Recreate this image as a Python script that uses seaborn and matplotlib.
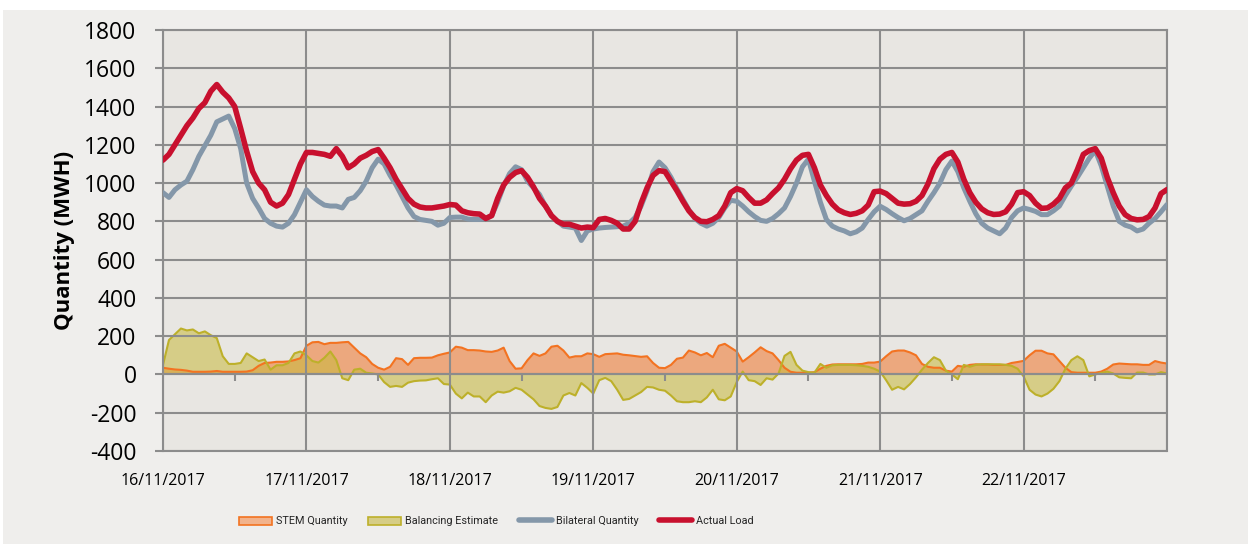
import matplotlib

matplotlib.use("Agg")

import matplotlib.pyplot as plt
import pandas as pd
import seaborn as sns
from matplotlib.lines import Line2D
from matplotlib.patches import Patch, Rectangle

# hourly readings, 16/11/2017 00:00 .. 23/11/2017 00:00 (one row per day)
start_day = "2017-11-16"
day_labels = ["16/11/2017", "17/11/2017", "18/11/2017", "19/11/2017",
              "20/11/2017", "21/11/2017", "22/11/2017", ""]
y_ticks = [-400, -200, 0, 200, 400, 600, 800, 1000, 1200, 1400, 1600, 1800]

actual_load = [
    1120, 1150, 1200, 1250, 1300, 1340, 1390, 1420, 1480, 1515, 1475, 1445, 1400, 1285, 1166, 1060, 1000, 965, 900, 880, 895, 940, 1020, 1100,
    1160, 1160, 1155, 1150, 1140, 1180, 1140, 1080, 1100, 1130, 1145, 1165, 1175, 1130, 1080, 1020, 970, 920, 890, 875, 870, 870, 875, 880,
    888, 885, 855, 845, 840, 838, 815, 830, 920, 990, 1030, 1055, 1065, 1030, 980, 920, 880, 830, 800, 785, 785, 775, 765, 770,
    767, 810, 815, 805, 790, 760, 760, 800, 895, 975, 1040, 1065, 1060, 1010, 960, 905, 855, 820, 800, 798, 810, 830, 880, 950,
    971, 960, 925, 895, 895, 912, 945, 975, 1020, 1075, 1120, 1145, 1150, 1080, 990, 935, 890, 860, 845, 836, 842, 855, 885, 955,
    958, 945, 920, 895, 890, 892, 905, 935, 995, 1075, 1125, 1150, 1160, 1110, 1020, 950, 900, 865, 845, 836, 838, 850, 890, 950,
    955, 935, 895, 868, 870, 890, 920, 975, 1000, 1070, 1150, 1170, 1180, 1130, 1030, 950, 880, 835, 815, 808, 810, 825, 870, 945,
    966,
]
bilateral_quantity = [
    950, 925, 965, 990, 1010, 1070, 1140, 1195, 1250, 1320, 1335, 1350, 1285, 1180, 1000, 920, 870, 815, 790, 775, 770, 790, 835, 900,
    965, 930, 905, 885, 880, 880, 870, 915, 925, 960, 1010, 1080, 1125, 1100, 1040, 990, 930, 870, 825, 810, 805, 800, 780, 790,
    820, 822, 822, 812, 810, 810, 815, 830, 900, 985, 1050, 1085, 1070, 1010, 975, 940, 880, 830, 800, 775, 770, 765, 700, 750,
    760, 765, 768, 770, 772, 775, 790, 820, 880, 960, 1060, 1110, 1080, 1030, 970, 915, 860, 815, 790, 775, 790, 820, 870, 910,
    905, 880, 850, 825, 805, 800, 815, 840, 870, 930, 1000, 1085, 1125, 1010, 900, 810, 775, 760, 750, 735, 745, 765, 810, 850,
    879, 862, 840, 820, 803, 815, 835, 855, 905, 950, 1000, 1070, 1115, 1060, 975, 905, 840, 790, 765, 750, 735, 765, 820, 855,
    870, 862, 852, 835, 835, 855, 880, 935, 985, 1030, 1080, 1130, 1170, 1090, 985, 880, 800, 780, 770, 750, 760, 790, 815, 850,
    888,
]
stem_quantity = [
    35, 30, 26, 24, 20, 14, 14, 14, 15, 18, 14, 14, 14, 14, 15, 22, 45, 60, 62, 66, 66, 68, 75, 85,
    150, 168, 170, 158, 165, 165, 168, 170, 140, 110, 90, 55, 35, 25, 40, 85, 80, 50, 85, 87, 87, 88, 100, 108,
    115, 145, 140, 127, 127, 125, 120, 118, 125, 140, 70, 30, 32, 75, 110, 97, 110, 145, 150, 125, 88, 95, 95, 110,
    106, 92, 106, 108, 110, 103, 100, 96, 92, 95, 60, 35, 33, 50, 82, 88, 125, 115, 100, 112, 90, 150, 160, 140,
    120, 67, 90, 115, 142, 122, 110, 75, 35, 14, 9, 9, 9, 12, 30, 45, 52, 53, 53, 53, 53, 55, 62, 62,
    67, 95, 120, 125, 125, 115, 100, 55, 40, 35, 35, 20, 15, 45, 40, 50, 53, 52, 52, 50, 50, 50, 60, 65,
    71, 100, 124, 124, 110, 105, 70, 35, 12, 9, 9, 9, 9, 15, 30, 52, 57, 55, 53, 53, 50, 50, 70, 62,
    57,
]
balancing_estimate = [
    50, 180, 210, 240, 230, 235, 215, 225, 205, 190, 95, 55, 55, 60, 110, 90, 70, 78, 25, 48, 48, 60, 110, 120,
    100, 70, 62, 87, 120, 75, -20, -30, 25, 30, 9, 5, 0, -40, -65, -60, -65, -43, -35, -32, -31, -25, -20, -50,
    -53, -100, -125, -95, -115, -115, -145, -110, -90, -95, -88, -70, -80, -105, -130, -165, -175, -180, -170, -110, -97, -110, -45, -70,
    -100, -30, -18, -35, -80, -133, -128, -110, -92, -65, -68, -80, -85, -110, -140, -145, -145, -140, -145, -120, -80, -130, -135, -115,
    -40, 15, -30, -35, -55, -20, -27, 5, 97, 118, 50, 20, 12, 9, 55, 35, 48, 50, 50, 50, 48, 45, 40, 30,
    15, -30, -80, -65, -78, -50, -15, 25, 60, 90, 75, 20, 0, -25, 50, 40, 50, 53, 53, 53, 53, 50, 45, 30,
    -10, -80, -105, -115, -100, -75, -35, 30, 75, 95, 75, -10, 0, 8, 15, 5, -15, -18, -20, 10, 10, 0, 0, 12,
    5,
]

GRID = "#8C8C8C"
STEM_EDGE, STEM_FILL = "#F37321", "#F07F3C"
BAL_EDGE, BAL_FILL = "#BDB02A", "#C8BA3C"
GREY, RED = "#8497A9", "#C8102E"

frame = pd.DataFrame({
    "time": pd.date_range(start_day, periods=len(actual_load), freq="h"),
    "actual": actual_load,
    "bilateral": bilateral_quantity,
    "stem": stem_quantity,
    "balancing": balancing_estimate,
})

sns.set_theme(style="white")
plt.rcParams["font.family"] = ["Open Sans", "DejaVu Sans"]
plt.rcParams["axes.unicode_minus"] = False

fig = plt.figure(figsize=(12.5, 5.46), dpi=100, facecolor="white")
fig.patches.append(Rectangle((0.0024, 0.0037), 0.9960, 0.978, transform=fig.transFigure,
                             facecolor="#EFEEEC", edgecolor="none", zorder=-10))
ax = fig.add_axes([0.1304, 0.1740, 0.8032, 0.7711])
ax.set_facecolor("#E8E6E2")

ax.fill_between(frame["time"], 0, frame["stem"], facecolor=STEM_FILL, alpha=0.6,
                edgecolor="none", zorder=1)
ax.fill_between(frame["time"], 0, frame["balancing"], facecolor=BAL_FILL, alpha=0.55,
                edgecolor="none", zorder=1.1)
sns.lineplot(data=frame, x="time", y="stem", color=STEM_EDGE, lw=1.5, ax=ax, zorder=1.5)
sns.lineplot(data=frame, x="time", y="balancing", color=BAL_EDGE, lw=1.5, ax=ax, zorder=1.6)
sns.lineplot(data=frame, x="time", y="bilateral", color=GREY, lw=3.6, ax=ax, zorder=3)
sns.lineplot(data=frame, x="time", y="actual", color=RED, lw=4.0, ax=ax, zorder=4)

days = pd.date_range(start_day, periods=len(day_labels), freq="D")
ax.set_xlim(days[0], days[-1])
ax.set_ylim(y_ticks[0], y_ticks[-1])
ax.set_xticks(days)
ax.set_xticklabels(day_labels)
ax.set_xticks(days[:-1] + pd.Timedelta(hours=12), minor=True)
ax.set_yticks(y_ticks)
ax.set_xlabel("")
ax.set_ylabel("Quantity (MWH)", fontsize=16, fontweight="bold", color="black")
ax.yaxis.set_label_coords(-0.088, 0.5)

ax.set_axisbelow(False)
ax.grid(True, which="major", color=GRID, lw=1.5, zorder=2.5)
ax.spines["bottom"].set_position(("data", 0))
for side in ["bottom", "left", "top", "right"]:
    ax.spines[side].set_color(GRID)
    ax.spines[side].set_linewidth(1.5)
ax.axhline(y_ticks[0], color=GRID, lw=1.5, clip_on=False)

ax.tick_params(axis="x", which="major", length=0, pad=71, labelsize=11.5, labelcolor="black")
ax.tick_params(axis="x", which="minor", bottom=True, length=5, width=1.5, color=GRID, direction="out")
ax.tick_params(axis="y", left=True, length=6, width=1.5, color=GRID, direction="out",
               labelsize=16.5, labelcolor="black", pad=13)

handles = [
    Patch(facecolor="#F2B38C", edgecolor=STEM_EDGE, lw=1.2, label="STEM Quantity"),
    Patch(facecolor="#D6CD86", edgecolor=BAL_EDGE, lw=1.2, label="Balancing Estimate"),
    Line2D([], [], color=GREY, lw=4, label="Bilateral Quantity"),
    Line2D([], [], color=RED, lw=4, label="Actual Load"),
]
fig.legend(handles=handles, loc="center", bbox_to_anchor=(0.397, 0.045), ncol=4, frameon=False,
           prop={"family": ["Roboto", "Open Sans"], "size": 7.8},
           handlelength=3.05, handleheight=0.8, handletextpad=0.35, columnspacing=1.9)

fig.savefig("out.png", dpi=100, facecolor=fig.get_facecolor())
plt.close(fig)
